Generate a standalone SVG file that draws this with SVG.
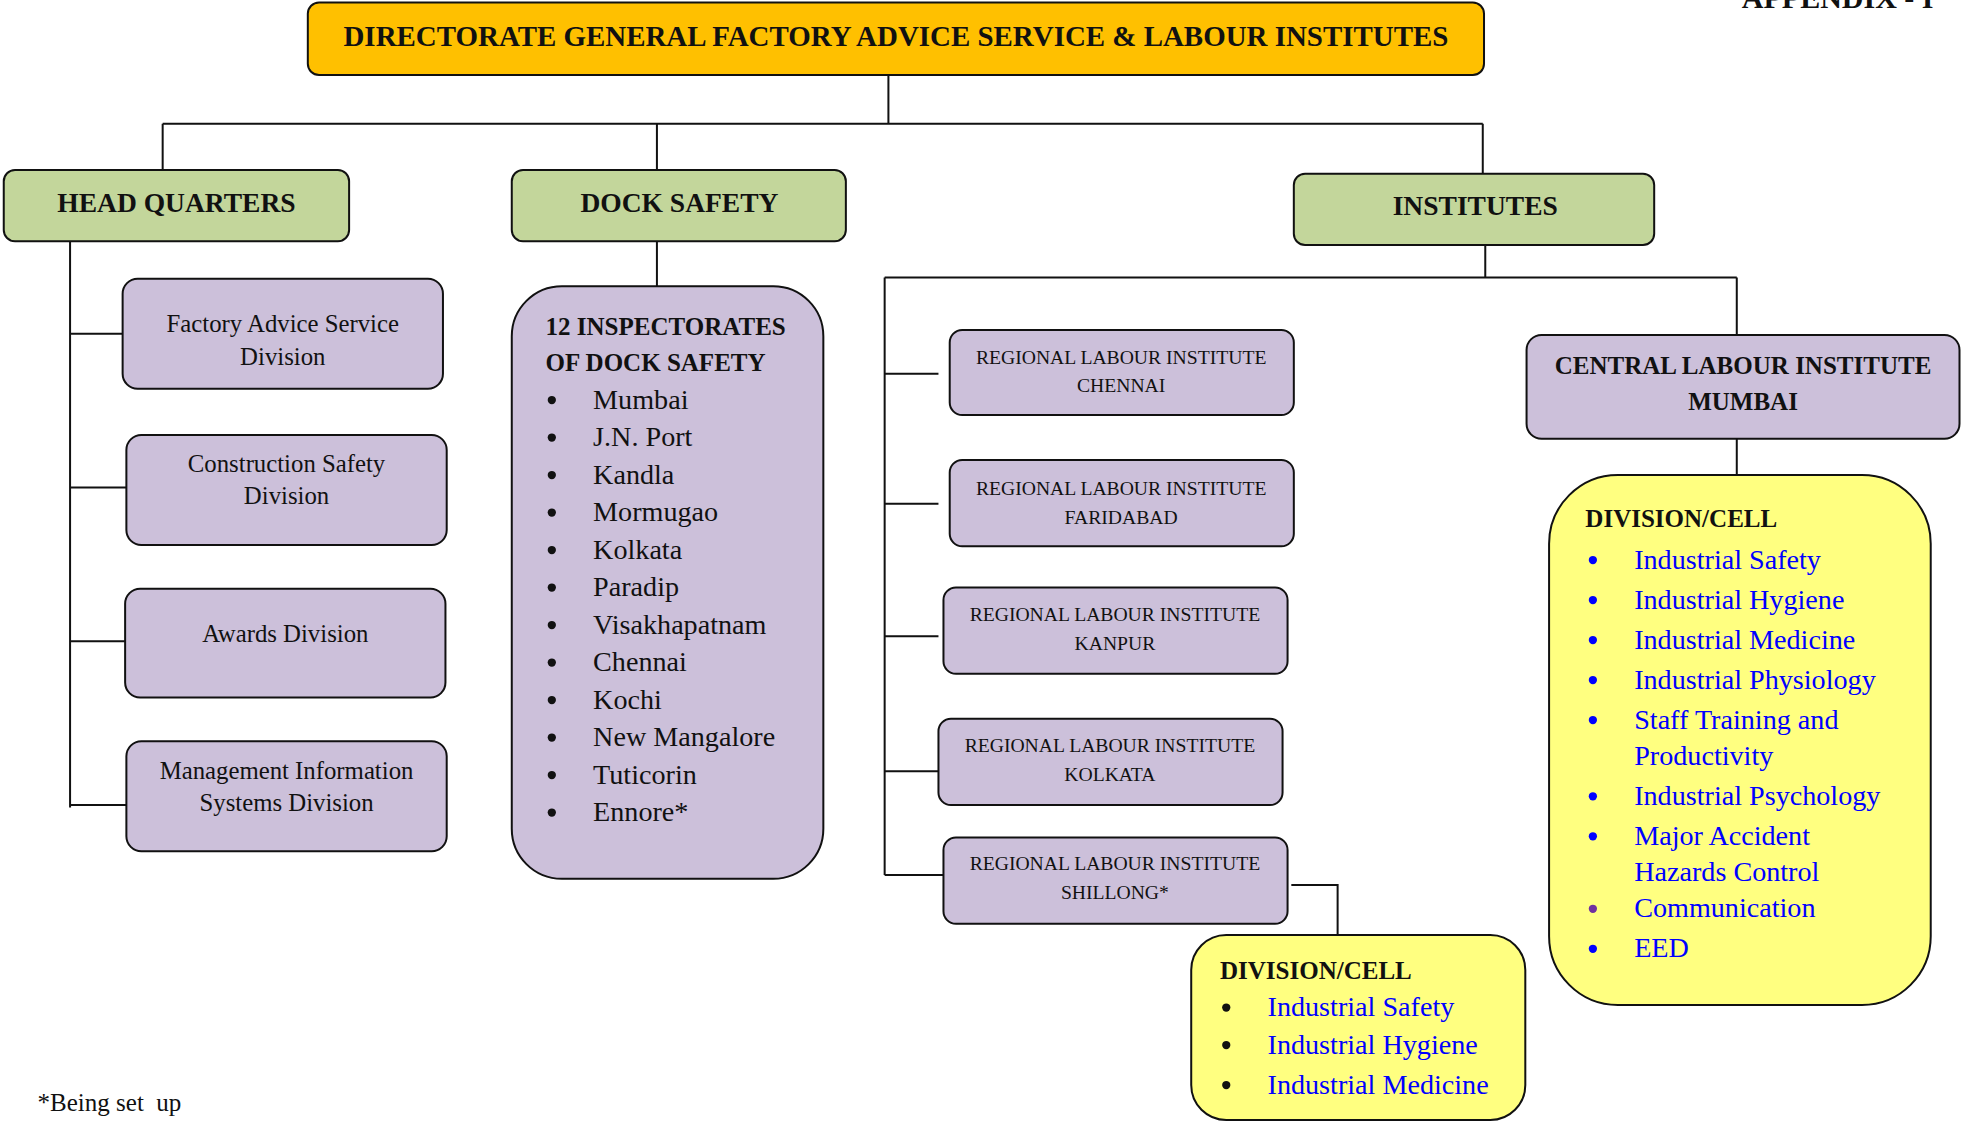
<svg xmlns="http://www.w3.org/2000/svg" width="1962" height="1125" viewBox="0 0 1962 1125">
<style>
.box{stroke:#111;stroke-width:1.6}
.top{fill:#FFC000}
.green{fill:#C3D69B}
.purple{fill:#CCC0DA}
.yellow{fill:#FFFF80}
.ln{stroke:#111;stroke-width:1.6;fill:none}
text{font-family:"Liberation Serif","DejaVu Serif",serif;fill:#111}
.b{font-weight:bold}
.c{text-anchor:middle}
.blue{fill:#0000FF}
.h1{font-size:24px}
.h2{font-size:22px}
.div{font-size:19.8px}
.rli{font-size:15.7px}
.lst{font-size:22.5px}
.bl{font-size:20px;font-weight:bold}
.pre{white-space:pre}
</style>
<rect width="1962" height="1125" fill="#fff"/>
<g transform="scale(1.25128 1.25)">
<g id="connectors">
<path class="ln" d="M710 60 V99 M130 99 H1185 M130 99 V136 M525 99 V136 M1185 99 V139"/>
<path class="ln" d="M56 193 V646 M56 267 H98 M56 390 H101 M56 513 H100 M56 644 H101"/>
<path class="ln" d="M525 193 V229"/>
<path class="ln" d="M1187 196 V222 M707 222 H1388 M1388 222 V268 M707 222 V700 M707 299 H750 M707 403 H750 M707 509 H750 M707 617 H750 M707 700 H754"/>
<path class="ln" d="M1032 708 H1069 V748"/>
<path class="ln" d="M1388 351 V380"/>
</g>
<text class="b" x="1392" y="6" font-size="24">APPENDIX - I</text>
<g id="dg">
<rect class="box top" x="246" y="2" width="940" height="58" rx="9"/>
<text class="b c h1" x="716" y="37" textLength="883" lengthAdjust="spacingAndGlyphs">DIRECTORATE GENERAL FACTORY ADVICE SERVICE &amp; LABOUR INSTITUTES</text>
</g>
<g id="hq">
<rect class="box green" x="3" y="136" width="276" height="57" rx="9"/>
<text class="b c h2" x="141" y="170">HEAD QUARTERS</text>
</g>
<g id="dock">
<rect class="box green" x="409" y="136" width="267" height="57" rx="9"/>
<text class="b c h2" x="543" y="170">DOCK SAFETY</text>
</g>
<g id="institutes">
<rect class="box green" x="1034" y="139" width="288" height="57" rx="9"/>
<text class="b c h2" x="1179" y="172">INSTITUTES</text>
</g>
<g id="fas">
<rect class="box purple" x="98" y="223" width="256" height="88" rx="12"/>
<text class="c div" x="226" y="266">Factory Advice Service</text>
<text class="c div" x="226" y="292">Division</text>
</g>
<g id="csd">
<rect class="box purple" x="101" y="348" width="256" height="88" rx="12"/>
<text class="c div" x="229" y="378">Construction Safety</text>
<text class="c div" x="229" y="403">Division</text>
</g>
<g id="awards">
<rect class="box purple" x="100" y="471" width="256" height="87" rx="12"/>
<text class="c div" x="228" y="514">Awards Division</text>
</g>
<g id="mis">
<rect class="box purple" x="101" y="593" width="256" height="88" rx="12"/>
<text class="c div" x="229" y="623">Management Information</text>
<text class="c div" x="229" y="649">Systems Division</text>
</g>
<g id="inspectorates">
<rect class="box purple" x="409" y="229" width="249" height="474" rx="40"/>
<text class="bl" x="436" y="268">12 INSPECTORATES</text>
<text class="bl" x="436" y="297">OF DOCK SAFETY</text>
<g fill="#111">
<circle cx="441" cy="320" r="3.3"/><circle cx="441" cy="350" r="3.3"/><circle cx="441" cy="380" r="3.3"/><circle cx="441" cy="410" r="3.3"/><circle cx="441" cy="440" r="3.3"/><circle cx="441" cy="470" r="3.3"/><circle cx="441" cy="500" r="3.3"/><circle cx="441" cy="530" r="3.3"/><circle cx="441" cy="560" r="3.3"/><circle cx="441" cy="590" r="3.3"/><circle cx="441" cy="620" r="3.3"/><circle cx="441" cy="650" r="3.3"/>
</g>
<text class="lst" x="474" y="327">Mumbai</text>
<text class="lst" x="474" y="357">J.N. Port</text>
<text class="lst" x="474" y="387">Kandla</text>
<text class="lst" x="474" y="417">Mormugao</text>
<text class="lst" x="474" y="447">Kolkata</text>
<text class="lst" x="474" y="477">Paradip</text>
<text class="lst" x="474" y="507">Visakhapatnam</text>
<text class="lst" x="474" y="537">Chennai</text>
<text class="lst" x="474" y="567">Kochi</text>
<text class="lst" x="474" y="597">New Mangalore</text>
<text class="lst" x="474" y="627">Tuticorin</text>
<text class="lst" x="474" y="657">Ennore*</text>
</g>
<g id="rli-chennai">
<rect class="box purple" x="759" y="264" width="275" height="68" rx="10"/>
<text class="c rli" x="896" y="291">REGIONAL LABOUR INSTITUTE</text>
<text class="c rli" x="896" y="314">CHENNAI</text>
</g>
<g id="rli-faridabad">
<rect class="box purple" x="759" y="368" width="275" height="69" rx="10"/>
<text class="c rli" x="896" y="396">REGIONAL LABOUR INSTITUTE</text>
<text class="c rli" x="896" y="419">FARIDABAD</text>
</g>
<g id="rli-kanpur">
<rect class="box purple" x="754" y="470" width="275" height="69" rx="10"/>
<text class="c rli" x="891" y="497">REGIONAL LABOUR INSTITUTE</text>
<text class="c rli" x="891" y="520">KANPUR</text>
</g>
<g id="rli-kolkata">
<rect class="box purple" x="750" y="575" width="275" height="69" rx="10"/>
<text class="c rli" x="887" y="602">REGIONAL LABOUR INSTITUTE</text>
<text class="c rli" x="887" y="625">KOLKATA</text>
</g>
<g id="rli-shillong">
<rect class="box purple" x="754" y="670" width="275" height="69" rx="10"/>
<text class="c rli" x="891" y="696">REGIONAL LABOUR INSTITUTE</text>
<text class="c rli" x="891" y="719">SHILLONG*</text>
</g>
<g id="shillong-cells">
<rect class="box yellow" x="952" y="748" width="267" height="148" rx="28"/>
<text class="bl" x="975" y="783">DIVISION/CELL</text>
<g fill="#111"><circle cx="980" cy="806" r="3.3"/><circle cx="980" cy="836" r="3.3"/><circle cx="980" cy="868" r="3.3"/></g>
<text class="lst blue" x="1013" y="813">Industrial Safety</text>
<text class="lst blue" x="1013" y="843">Industrial Hygiene</text>
<text class="lst blue" x="1013" y="875">Industrial Medicine</text>
</g>
<g id="cli">
<rect class="box purple" x="1220" y="268" width="346" height="83" rx="12"/>
<text class="bl c" x="1393" y="299">CENTRAL LABOUR INSTITUTE</text>
<text class="bl c" x="1393" y="328">MUMBAI</text>
</g>
<g id="cli-cells">
<rect class="box yellow" x="1238" y="380" width="305" height="424" rx="55"/>
<text class="bl" x="1267" y="422">DIVISION/CELL</text>
<g fill="#0000FF">
<circle cx="1273" cy="448" r="3.3"/><circle cx="1273" cy="480" r="3.3"/><circle cx="1273" cy="512" r="3.3"/><circle cx="1273" cy="544" r="3.3"/><circle cx="1273" cy="576" r="3.3"/><circle cx="1273" cy="637" r="3.3"/><circle cx="1273" cy="669" r="3.3"/><circle cx="1273" cy="759" r="3.3"/>
</g>
<circle cx="1273" cy="727" r="3.3" fill="#7030A0"/>
<text class="lst blue" x="1306" y="455">Industrial Safety</text>
<text class="lst blue" x="1306" y="487">Industrial Hygiene</text>
<text class="lst blue" x="1306" y="519">Industrial Medicine</text>
<text class="lst blue" x="1306" y="551">Industrial Physiology</text>
<text class="lst blue" x="1306" y="583">Staff Training and</text>
<text class="lst blue" x="1306" y="612">Productivity</text>
<text class="lst blue" x="1306" y="644">Industrial Psychology</text>
<text class="lst blue" x="1306" y="676">Major Accident</text>
<text class="lst blue" x="1306" y="705">Hazards Control</text>
<text class="lst blue" x="1306" y="734">Communication</text>
<text class="lst blue" x="1306" y="766">EED</text>
</g>
<text class="pre" x="30" y="889" font-size="20">*Being set  up</text>
</g>
</svg>
